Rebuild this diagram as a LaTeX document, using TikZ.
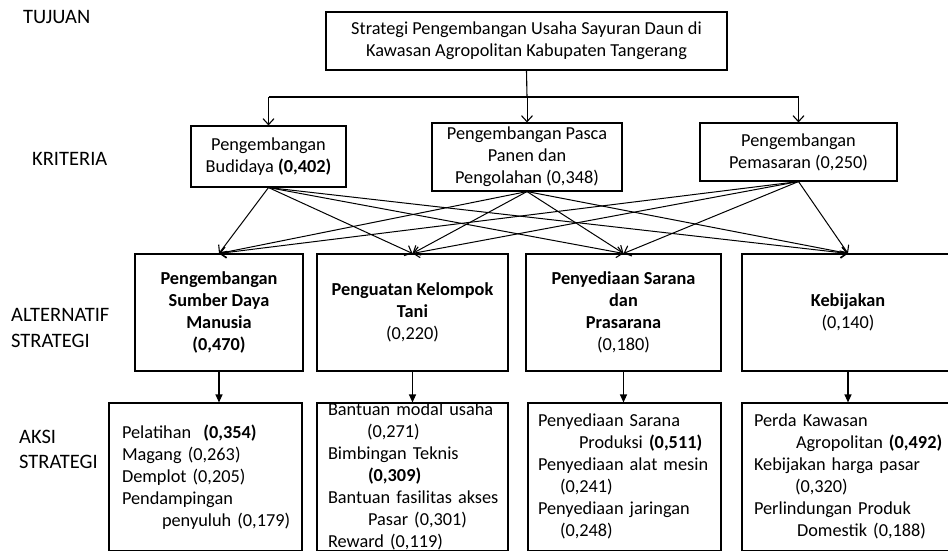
\documentclass[tikz,border=0pt]{standalone}
\usepackage{fontspec}
\setmainfont{Carlito}
\usetikzlibrary{arrows.meta}
\begin{document}
\begin{tikzpicture}[x=1pt,y=-1pt,
  bx/.style={draw, line width=1.1pt, inner sep=0pt, align=center,
    font=\fontsize{18.3}{22}\selectfont},
  actbox/.style={draw, line width=1.1pt, inner ysep=0pt, align=left,
    font=\fontsize{18.3}{22}\selectfont},
  lbl/.style={inner sep=0pt, anchor=base west, font=\fontsize{20.5}{24}\selectfont},
  vee/.style={line width=1pt, -{Straight Barb[length=6pt,width=11pt,line width=1.1pt]}},
  tri/.style={line width=1.1pt, -{Triangle[length=8pt,width=7pt]}},
  ln/.style={line width=1.1pt}
]
\useasboundingbox (0,0) rectangle (948,552);

% left labels
\node[lbl] (ltuj) at (23,23) {TUJUAN};
\node[lbl] (lkri) at (32,165) {KRITERIA};
\node[lbl] (lalt1) at (11,321) {ALTERNATIF};
\node[lbl] (lalt2) at (11,347) {STRATEGI};
\node[lbl] (laks1) at (19,443) {AKSI};
\node[lbl] (laks2) at (19,468) {STRATEGI};

% goal
\node[bx, minimum width=401pt, minimum height=58pt] (top) at (526.5,41)
  {Strategi Pengembangan Usaha Sayuran Daun di\\Kawasan Agropolitan Kabupaten Tangerang};

% criteria
\node[bx, minimum width=155pt, minimum height=61pt] (c1) at (268.5,156.5)
  {Pengembangan\\Budidaya \textbf{(0,402)}};
\node[bx, minimum width=190pt, minimum height=68pt] (c2) at (527,157)
  {Pengembangan Pasca\\Panen dan\\Pengolahan (0,348)};
\node[bx, minimum width=197pt, minimum height=58pt] (c3) at (798.5,152)
  {Pengembangan\\Pemasaran (0,250)};

% alternatives
\node[bx, minimum width=168pt, minimum height=117pt] (a1) at (219,312.5)
  {\textbf{Pengembangan}\\\textbf{Sumber Daya}\\\textbf{Manusia}\\\textbf{(0,470)}};
\node[bx, minimum width=191pt, minimum height=117pt] (a2) at (412.5,312.5)
  {\textbf{Penguatan Kelompok}\\\textbf{Tani}\\(0,220)};
\node[bx, minimum width=195pt, minimum height=117pt] (a3) at (623.5,312.5)
  {\textbf{Penyediaan Sarana}\\\textbf{dan}\\\textbf{Prasarana}\\(0,180)};
\node[bx, minimum width=212pt, minimum height=117pt] (a4) at (848,312.5)
  {\textbf{Kebijakan}\\(0,140)};

% actions
\node[actbox, inner xsep=13pt, text width=167pt, minimum height=147.5pt] (x1) at (205.5,476.75)
  {\mbox{Pelatihan~ \textbf{(0,354)}}\\
   \mbox{Magang (0,263)}\\
   \mbox{Demplot (0,205)}\\
   \mbox{Pendampingan}\\
   \mbox{\hspace{40pt}penyuluh (0,179)}};
\node[actbox, inner xsep=11pt, text width=169pt, minimum height=147.5pt] (x2) at (412.5,476.75)
  {\mbox{Bantuan modal usaha}\\
   \mbox{\hspace{39pt}(0,271)}\\
   \mbox{Bimbingan Teknis}\\
   \mbox{\hspace{40pt}\textbf{(0,309)}}\\
   \mbox{Bantuan fasilitas akses}\\
   \mbox{\hspace{40pt}Pasar (0,301)}\\
   \mbox{Reward (0,119)}};
\node[actbox, inner xsep=10pt, text width=173pt, minimum height=147.5pt] (x3) at (624.5,476.75)
  {\mbox{Penyediaan Sarana}\\
   \mbox{\hspace{41pt}Produksi \textbf{(0,511)}}\\
   \mbox{Penyediaan alat mesin}\\
   \mbox{\hspace{22pt}(0,241)}\\
   \mbox{Penyediaan jaringan}\\
   \mbox{\hspace{22pt}(0,248)}};
\node[actbox, inner xsep=12pt, text width=188pt, minimum height=147.5pt] (x4) at (848,476.75)
  {\mbox{Perda Kawasan}\\
   \mbox{\hspace{42pt}Agropolitan \textbf{(0,492)}}\\
   \mbox{Kebijakan harga pasar}\\
   \mbox{\hspace{41pt}(0,320)}\\
   \mbox{Perlindungan Produk}\\
   \mbox{\hspace{43pt}Domestik (0,188)}};

% goal -> criteria
\coordinate (j) at (527,97);
\draw[ln] (top.south) -- (j);
\draw[ln] (c1.north |- j) -- (c3.north |- j);
\draw[vee] (c1.north |- j) -- (c1.north);
\draw[vee] (j) -- (c2.north);
\draw[vee] (c3.north |- j) -- (c3.north);

% criteria -> alternatives
\foreach \c in {c1,c2,c3}{
  \foreach \a in {a1,a2,a3,a4}{
    \draw[vee] (\c.south) -- (\a.north);
  }
}

% alternatives -> actions
\draw[tri] (a1.south) -- (a1.south |- x1.north);
\draw[tri] (a2.south) -- (a2.south |- x2.north);
\draw[tri] (a3.south) -- (a3.south |- x3.north);
\draw[tri] (a4.south) -- (a4.south |- x4.north);
\end{tikzpicture}
\end{document}
